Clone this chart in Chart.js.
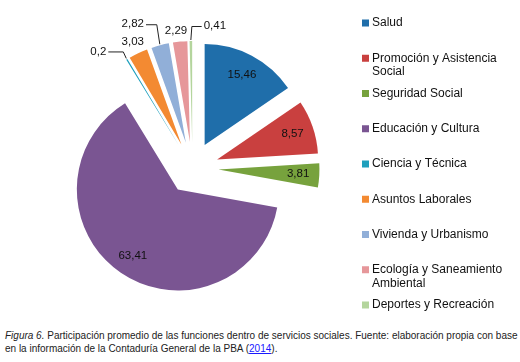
<!DOCTYPE html>
<html>
<head>
<meta charset="utf-8">
<script src="https://cdn.jsdelivr.net/npm/chart.js@4/dist/chart.umd.min.js"></script>
<style>
    body { margin: 0; background: #fff; }
    #wrap { position: relative; width: 520px; height: 362px; }
    #chart_pie { position: absolute; left: 0; top: 0; }
    #cap {
        position: absolute; left: 5px; top: 329px;
        font-family: "Liberation Sans", Arial, sans-serif;
        font-size: 10px; line-height: 13px; color: #222; white-space: nowrap;
    }
    #cap a { color: #1a1aff; text-decoration: underline; }
</style>
</head>
<body>
<div id="wrap">
    <canvas id="chart_pie" width="520" height="326"></canvas>
    <div id="cap"><i>Figura 6.</i> Participación promedio de las funciones dentro de servicios sociales. Fuente: elaboración propia con base<br>en la información de la Contaduría General de la PBA (<a>2014</a>).</div>
</div>
<script>
var categories = [
    'Salud',
    'Promoción y Asistencia Social',
    'Seguridad Social',
    'Educación y Cultura',
    'Ciencia y Técnica',
    'Asuntos Laborales',
    'Vivienda y Urbanismo',
    'Ecología y Saneamiento Ambiental',
    'Deportes y Recreación'
]
var values = [15.46, 8.57, 3.81, 63.41, 0.2, 3.03, 2.82, 2.29, 0.41]
var valueLabels = ['15,46', '8,57', '3,81', '63,41', '0,2', '3,03', '2,82', '2,29', '0,41']
var colors = ['#1f6eaa', '#c9403f', '#77a23d', '#7a5592', '#1fa0bd', '#f38a32', '#91afd8', '#e6979a', '#b4d59d']

var FONT = '"Liberation Sans", Arial, sans-serif'
var EXPLODE = 26

// where the small outside labels go, relative to the slice's outer edge
var outside = {
    4: { dx: -28, dy: -7, line: true },
    5: { dx: -5, dy: -10 },
    6: { dx: -27, dy: -20, line: true },
    7: { dx: -4, dy: -10 },
    8: { dx: 24, dy: -14, line: true }
}

function sliceGeom(arc) {
    var mid = (arc.startAngle + arc.endAngle) / 2
    var cx = arc.x + Math.cos(mid) * EXPLODE
    var cy = arc.y + Math.sin(mid) * EXPLODE
    return { mid: mid, cx: cx, cy: cy, r: arc.outerRadius }
}

// draws each slice pulled out along its middle angle
var explodePlugin = {
    id: 'explode',
    beforeDatasetDraw: function (chart, args) {
        var ctx = chart.ctx
        args.meta.data.forEach(function (arc) {
            var mid = (arc.startAngle + arc.endAngle) / 2
            ctx.save()
            ctx.translate(Math.cos(mid) * EXPLODE, Math.sin(mid) * EXPLODE)
            arc.draw(ctx)
            ctx.restore()
        })
        return false
    }
}

var labelPlugin = {
    id: 'valueLabels',
    afterDatasetsDraw: function (chart) {
        var ctx = chart.ctx
        var arcs = chart.getDatasetMeta(0).data
        ctx.save()
        ctx.font = '11.5px ' + FONT
        ctx.fillStyle = '#111'
        ctx.textAlign = 'center'
        ctx.textBaseline = 'middle'
        arcs.forEach(function (arc, i) {
            var g = sliceGeom(arc)
            var text = valueLabels[i]
            if (!outside[i]) {
                ctx.fillText(text, g.cx + Math.cos(g.mid) * g.r * 0.79, g.cy + Math.sin(g.mid) * g.r * 0.79)
                return
            }
            var o = outside[i]
            var ox = g.cx + Math.cos(g.mid) * (g.r + 1)
            var oy = g.cy + Math.sin(g.mid) * (g.r + 1)
            var lx = ox + o.dx
            var ly = oy + o.dy
            ctx.fillText(text, lx, ly)
            if (o.line) {
                var w = ctx.measureText(text).width
                var sx = o.dx < 0 ? lx + w / 2 + 2 : lx - w / 2 - 2
                ctx.beginPath()
                ctx.strokeStyle = '#222'
                ctx.lineWidth = 1
                ctx.moveTo(sx, ly + 0.5)
                ctx.lineTo(ox + (o.dx < 0 ? -3 : 1), ly + 0.5)
                ctx.lineTo(ox, oy)
                ctx.stroke()
            }
        })
        ctx.restore()
    }
}

function wrapText(ctx, text, maxWidth) {
    var words = text.split(' ')
    var lines = []
    var line = ''
    words.forEach(function (word) {
        var test = line ? line + ' ' + word : word
        if (line && ctx.measureText(test).width > maxWidth) {
            lines.push(line)
            line = word
        } else {
            line = test
        }
    })
    lines.push(line)
    return lines
}

var legendPlugin = {
    id: 'sideLegend',
    afterDraw: function (chart) {
        var ctx = chart.ctx
        ctx.save()
        ctx.font = '12px ' + FONT
        ctx.textBaseline = 'middle'
        ctx.textAlign = 'left'
        categories.forEach(function (name, i) {
            var y = 23 + i * 35.25
            ctx.fillStyle = colors[i]
            ctx.fillRect(362, y - 3.5, 7, 7)
            ctx.fillStyle = '#111'
            wrapText(ctx, name, 140).forEach(function (line, k) {
                ctx.fillText(line, 372, y + k * 13.5)
            })
        })
        ctx.restore()
    }
}

var chart_pie = new Chart(document.getElementById('chart_pie'), {
    type: 'pie',
    data: {
        labels: categories,
        datasets: [
            {
                data: values,
                backgroundColor: colors,
                borderWidth: 0,
                radius: 101
            }
        ]
    },
    options: {
        responsive: false,
        animation: false,
        layout: {
            padding: { top: 10, right: 135, left: 0, bottom: 0 }
        },
        plugins: {
            legend: { display: false },
            tooltip: { enabled: false }
        }
    },
    plugins: [explodePlugin, labelPlugin, legendPlugin]
})
</script>
</body>
</html>
